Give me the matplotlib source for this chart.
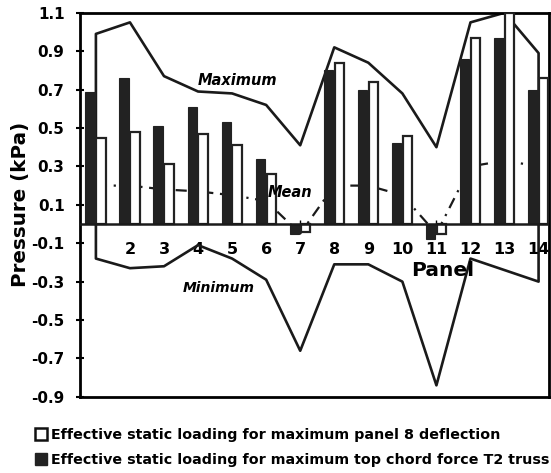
import matplotlib
matplotlib.use("Agg")
import matplotlib.pyplot as plt
from matplotlib.patches import Patch

plt.rcParams['font.family'] = ['DejaVu Sans']

panels = [1, 2, 3, 4, 5, 6, 7, 8, 9, 10, 11, 12, 13, 14]
tick_labels = ['', '2', '3', '4', '5', '6', '7', '8', '9', '10', '11', '12', '13', '14']
t2_truss = [0.69, 0.76, 0.51, 0.61, 0.53, 0.34, -0.05, 0.80, 0.70, 0.42, -0.08, 0.86, 0.97, 0.70]
panel8 = [0.45, 0.48, 0.31, 0.47, 0.41, 0.26, -0.04, 0.84, 0.74, 0.46, -0.05, 0.97, 1.10, 0.76]
maximum = [0.99, 1.05, 0.77, 0.69, 0.68, 0.62, 0.41, 0.92, 0.84, 0.68, 0.40, 1.05, 1.10, 0.89]
minimum = [-0.18, -0.23, -0.22, -0.11, -0.18, -0.29, -0.66, -0.21, -0.21, -0.30, -0.84, -0.18, -0.24, -0.30]
mean = [0.20, 0.20, 0.18, 0.17, 0.15, 0.12, -0.05, 0.20, 0.20, 0.15, -0.05, 0.30, 0.33, 0.30]
yticks = [1.1, 0.9, 0.7, 0.5, 0.3, 0.1, -0.1, -0.3, -0.5, -0.7, -0.9]

fig = plt.figure(figsize=(5.51, 4.73), dpi=100)
ax = fig.add_axes([0.145, 0.161, 0.851, 0.812])

w = 0.28
ax.bar([p - 0.17 for p in panels], t2_truss, width=w, color='#222222',
       edgecolor='#222222', linewidth=0.8, zorder=3)
ax.bar([p + 0.15 for p in panels], panel8, width=w, color='white',
       edgecolor='#222222', linewidth=1.6, zorder=3)

# envelope lines, closed to zero at the end panels
mx_x = [panels[0]] + panels + [panels[-1]]
ax.plot(mx_x, [0] + maximum + [0], color='#1a1a1a', lw=1.9, zorder=2)
ax.plot(mx_x, [0] + minimum + [0], color='#1a1a1a', lw=1.9, zorder=2)
ax.plot(panels, mean, color='#1a1a1a', lw=1.6, ls=(0, (5, 3, 1, 3)), zorder=1)

ax.axhline(0, color='#1a1a1a', lw=1.8, zorder=4)

ax.set_xlim(0.53, 14.3)
ax.set_ylim(-0.9, 1.1)
ax.set_yticks(yticks)
ax.set_yticklabels([f"{v:.1f}" for v in yticks], fontsize=11, fontweight='bold')
ax.tick_params(axis='y', direction='inout', length=6, width=1.5, pad=8)
ax.set_xticks([])
for s in ax.spines.values():
    s.set_linewidth(2)

sec = ax.secondary_xaxis(0.45)
sec.set_xticks(panels)
sec.set_xticklabels(tick_labels, fontsize=11.5, fontweight='bold')
sec.tick_params(direction='in', length=3, width=1, pad=13)
sec.spines['bottom'].set_visible(False)

ax.set_ylabel('Pressure (kPa)', fontsize=14.3, fontweight='bold', labelpad=1)

ax.text(4.0, 0.725, 'Maximum', fontsize=10.5, style='italic', fontweight='bold')
ax.text(3.55, -0.355, 'Minimum', fontsize=10, style='italic', fontweight='bold')
ax.text(6.05, 0.14, 'Mean', fontsize=10.5, style='italic', fontweight='bold', zorder=5)
ax.text(10.25, -0.27, 'Panel', fontsize=14.5, fontweight='bold', zorder=5)

handles = [Patch(facecolor='white', edgecolor='#111111', linewidth=1.8),
           Patch(facecolor='#222222', edgecolor='#222222')]
labels = ['Effective static loading for maximum panel 8 deflection',
          'Effective static loading for maximum top chord force T2 truss']
fig.legend(handles, labels, loc='upper left', bbox_to_anchor=(0.063, 0.095),
           frameon=False, prop={'size': 10.3, 'weight': 'bold'},
           handlelength=0.85, handleheight=0.85,
           handletextpad=0.3, labelspacing=0.75, borderpad=0, borderaxespad=0)

fig.savefig('out.png', dpi=100)
